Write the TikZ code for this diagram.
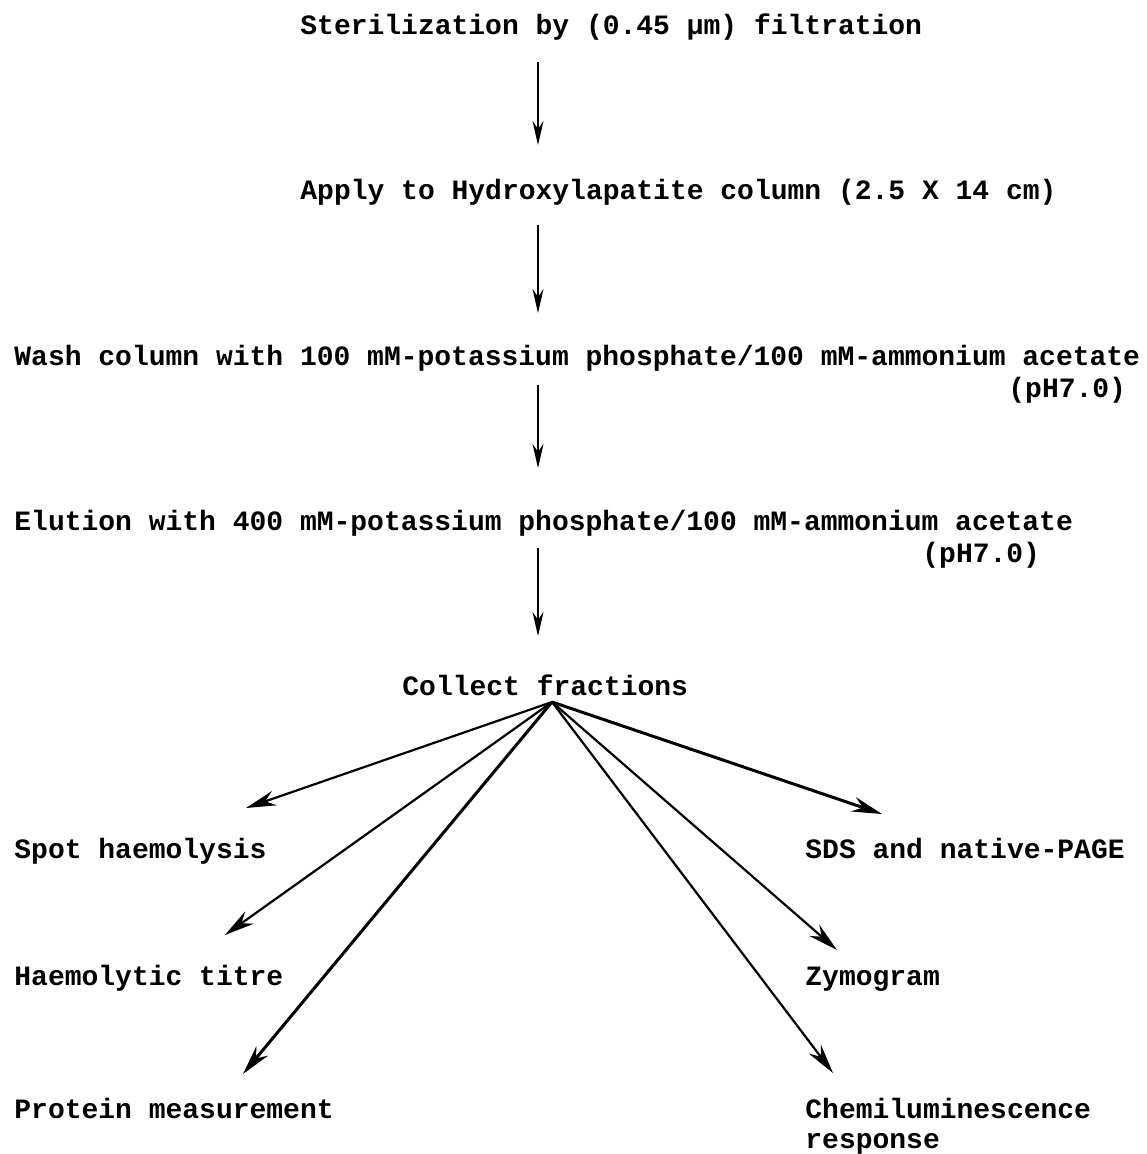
\documentclass[tikz,border=0pt]{standalone}
\usepackage{fontspec}
\setmonofont{Liberation Mono}
\usetikzlibrary{arrows.meta}
\begin{document}
\begin{tikzpicture}[x=0.5pt,y=-0.5pt,
  lbl/.style={anchor=base west,inner sep=0pt,font=\ttfamily\bfseries\fontsize{14}{16}\selectfont},
  varrow/.style={line width=1pt,-{Stealth[length=12pt,width=5.5pt]}},
  farrow/.style={line width=1.1pt,-{Stealth[length=15pt,width=7.5pt]}}]
\useasboundingbox (0,0) rectangle (1146,1154);
\node[lbl] (ster) at (300,35) {Sterilization by (0.45 µm) filtration};
\node[lbl] (apply) at (300,200) {Apply to Hydroxylapatite column (2.5 X 14 cm)};
\node[lbl] (wash) at (14,365) {Wash column with 100 mM-potassium phosphate/100 mM-ammonium acetate};
\node[lbl] (washph) at (1008,397) {(pH7.0)};
\node[lbl] (elu) at (14,530) {Elution with 400 mM-potassium phosphate/100 mM-ammonium acetate};
\node[lbl] (eluph) at (922,562) {(pH7.0)};
\node[lbl] (coll) at (402,695) {Collect fractions};
\node[lbl] (spot) at (14,858) {Spot haemolysis};
\node[lbl] (titre) at (14,985) {Haemolytic titre};
\node[lbl] (prot) at (14,1118) {Protein measurement};
\node[lbl] (sds) at (805,858) {SDS and native-PAGE};
\node[lbl] (zymo) at (805,985) {Zymogram};
\node[lbl] (chemi) at (805,1118) {Chemiluminescence};
\node[lbl] (resp) at (805,1148) {response};
% vertical arrows
\coordinate (a1s) at (538,62);  \coordinate (a1e) at (538,145);
\coordinate (a2s) at (538,225); \coordinate (a2e) at (538,313);
\coordinate (a3s) at (538,385); \coordinate (a3e) at (538,468);
\coordinate (a4s) at (538,548); \coordinate (a4e) at (538,636);
\draw[varrow] (a1s) -- (a1e);
\draw[varrow] (a2s) -- (a2e);
\draw[varrow] (a3s) -- (a3e);
\draw[varrow] (a4s) -- (a4e);
% fan arrows
\coordinate (hub) at (552,702);
\coordinate (tspot) at (246,808);
\coordinate (ttitre) at (225,935);
\coordinate (tprot) at (243,1074);
\coordinate (tsds) at (882,814);
\coordinate (tzymo) at (837,950);
\coordinate (tchemi) at (833,1073);
\draw[farrow] (hub) -- (tspot);
\draw[farrow] (hub) -- (ttitre);
\draw[farrow,line width=1.5pt] (hub) -- (tprot);
\draw[farrow,line width=1.5pt] (hub) -- (tsds);
\draw[farrow] (hub) -- (tzymo);
\draw[farrow] (hub) -- (tchemi);
\end{tikzpicture}
\end{document}
